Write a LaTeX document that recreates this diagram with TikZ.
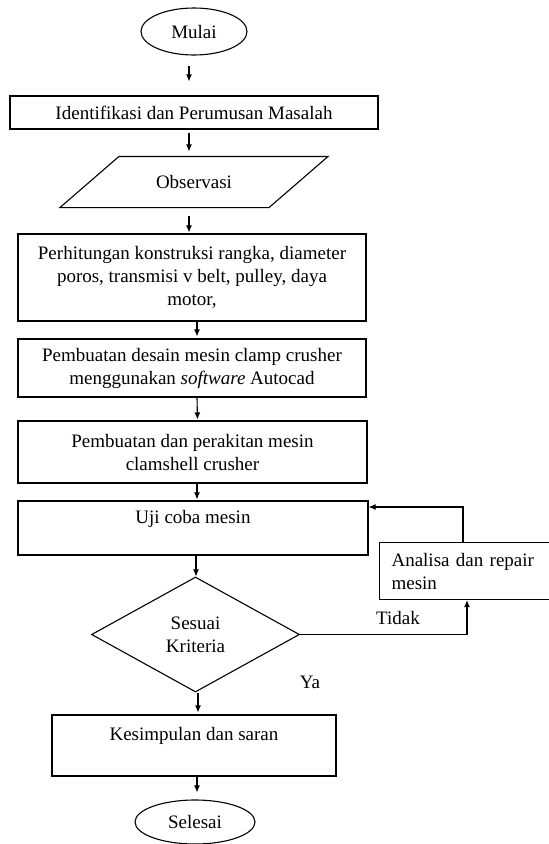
\documentclass[tikz,border=0pt]{standalone}
\usepackage{fontspec}
\setmainfont{Liberation Serif}
\usetikzlibrary{shapes.geometric,arrows.meta,positioning}

\tikzset{
  term/.style={draw, ellipse, minimum width=106pt, minimum height=47pt, inner sep=0pt},
  proc/.style={draw, rectangle, align=center, inner sep=0pt},
  io/.style={align=center, minimum width=208pt, minimum height=50pt, inner sep=0pt},
  decis/.style={draw, diamond, align=center, minimum width=208pt, minimum height=115pt, inner sep=0pt},
  lbl/.style={inner sep=0pt},
}

\begin{document}
\begin{tikzpicture}[x=1pt, y=-1pt, line width=1.1pt, >={Latex[length=7pt,width=6pt]},
    font=\fontsize{19}{23}\selectfont]
        \clip (0,0) rectangle (549,844);
        % Start
        \node[term] (mulai) at (194,31.5) {Mulai};
        % Steps
        \node[proc, minimum width=368pt, minimum height=33pt] (idn) at (194,112.5) {Identifikasi dan Perumusan Masalah};
        \node[io] (obs) at (194,182) {Observasi};
        \draw ([xshift=29.5pt]obs.north west) -- ([xshift=29.5pt]obs.north east)
            -- ([xshift=-29.5pt]obs.south east) -- ([xshift=-29.5pt]obs.south west) -- cycle;
        \node[proc, minimum width=348pt, minimum height=87pt] (hit) at (192,277.5)
            {Perhitungan konstruksi rangka, diameter\\poros, transmisi v belt, pulley, daya\\motor,};
        \node[proc, minimum width=348pt, minimum height=58pt] (desain) at (192,368)
            {Pembuatan desain mesin clamp crusher\\menggunakan \textit{software} Autocad};
        \node[proc, minimum width=349pt, minimum height=62pt] (rakit) at (192.5,452)
            {Pembuatan dan perakitan mesin\\clamshell crusher};
        \node[proc, minimum width=350pt, minimum height=54pt] (uji) at (193,528) {Uji coba mesin\\~};
        % Decision
        \node[decis] (sesuai) at (195.5,634.5) {Sesuai\\Kriteria};
        \node[proc, anchor=north west, minimum width=190pt, minimum height=57pt, text width=166pt,
            inner xsep=12pt, align=left] (ana) at (379,542) {Analisa dan repair\\mesin};
        \node[proc, minimum width=284pt, minimum height=61pt] (simp) at (194,745.5) {Kesimpulan dan saran\\~};
        % End
        \node[term, minimum width=120pt, minimum height=44pt] (selesai) at (195,822) {Selesai};
        % Labels
        \node[lbl] (tidak) at (398,618) {Tidak};
        \node[lbl] (ya) at (310,682) {Ya};
        % Arrows
        \draw[->, shorten <=10pt, shorten >=14pt] ([xshift=-5pt]mulai.south) -- ([xshift=-5pt]idn.north);
        \draw[->, shorten <=3pt, shorten >=5pt] ([xshift=-5pt]idn.south) -- ([xshift=-5pt]obs.north);
        \draw[->, shorten <=8pt, shorten >=1pt] ([xshift=-5pt]obs.south) -- ([xshift=-3pt]hit.north);
        \draw[->, shorten >=2pt] ([xshift=5pt]hit.south) -- ([xshift=5pt]desain.north);
        \draw[->, shorten >=1pt] ([xshift=5pt]desain.south) -- ([xshift=5pt]rakit.north);
        \draw[->, shorten >=1pt] ([xshift=4.5pt]rakit.south) -- ([xshift=4pt]uji.north);
        \draw[->] ([xshift=3pt]uji.south) -- ([xshift=0.5pt]sesuai.north);
        \draw[->, shorten >=2pt] ([xshift=2.5pt]sesuai.south) -- ([xshift=4pt]simp.north);
        \draw[->, shorten >=7pt] ([xshift=3pt]simp.south) -- ([xshift=2pt]selesai.north);
        % Loop back
        \draw[->] (sesuai.east) -| ([xshift=88pt]ana.south west);
        \draw[->] ([xshift=84pt]ana.north west) |- ([yshift=21pt]uji.east);
\end{tikzpicture}
\end{document}
